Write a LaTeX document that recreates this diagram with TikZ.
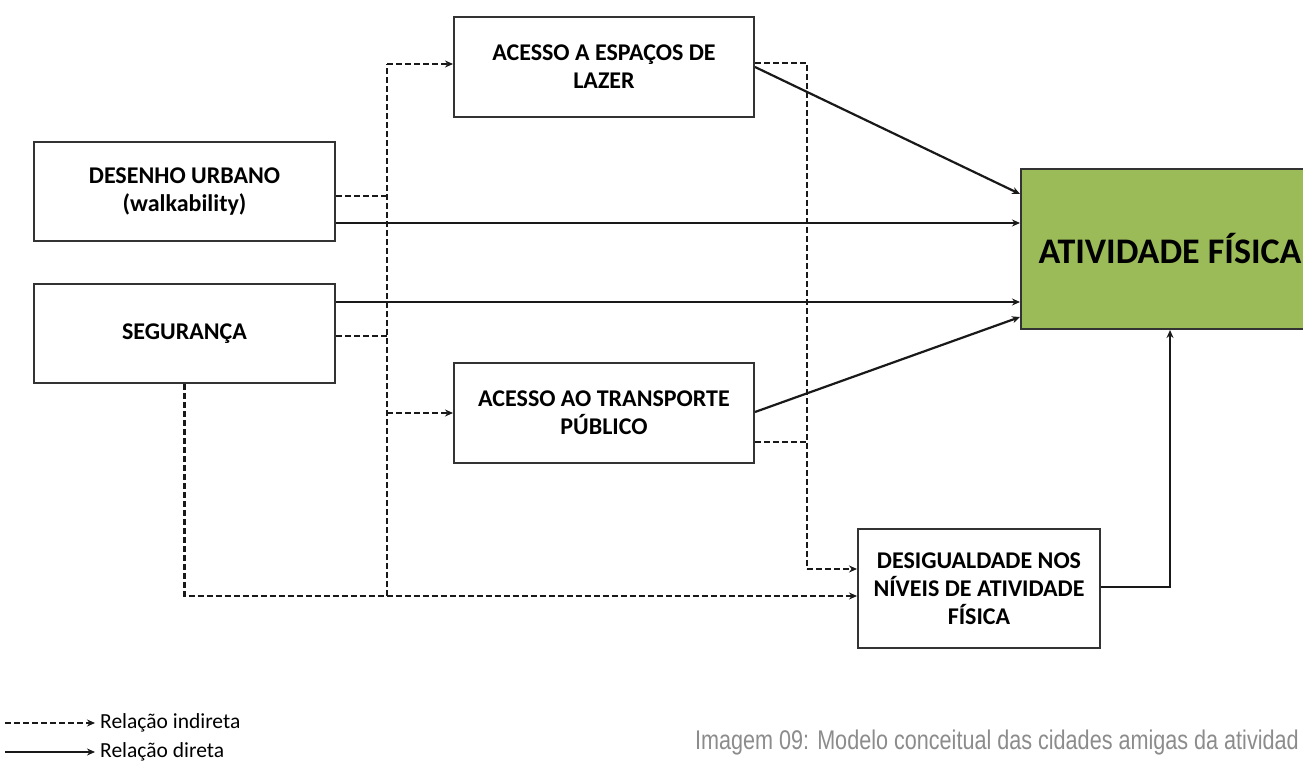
\documentclass[tikz,border=0pt]{standalone}
\usepackage{fontspec}
\setmainfont{Carlito}
\newfontfamily\capfont[FakeStretch=0.80]{Liberation Sans}
\usetikzlibrary{arrows.meta,calc}
\definecolor{boxgreen}{HTML}{9BBB59}
\definecolor{capgray}{HTML}{8C8C8C}
\begin{document}
\begin{tikzpicture}[x=1pt,y=-1pt,
 box/.style={draw=black!80, line width=2pt, fill=white, align=center, font=\bfseries\fontsize{24}{28}\selectfont, inner sep=0pt},
 conn/.style={line width=2.2pt, draw=black!90},
 ind/.style={conn, dash pattern=on 6pt off 3pt},
 tip/.style={-{Stealth[length=8pt,width=7pt]}},
 legtext/.style={anchor=west, inner sep=0pt, font=\fontsize{21.5}{25}\selectfont}
]
\useasboundingbox (0,0) rectangle (1303,762);
\clip (0,0) rectangle (1303,762);
\fill[white] (0,0) rectangle (1303,762);

% boxes
\node[box, minimum width=300pt, minimum height=100pt] (lazer) at (604,67) {ACESSO A ESPAÇOS DE\\LAZER};
\node[box, minimum width=301pt, minimum height=99pt] (desenho) at (184.5,191.5) {DESENHO URBANO\\(walkability)};
\node[box, minimum width=301pt, minimum height=99pt] (seg) at (184.5,333.5) {SEGURANÇA};
\node[box, minimum width=300pt, minimum height=100pt] (transp) at (604,413) {ACESSO AO TRANSPORTE\\PÚBLICO};
\node[box, minimum width=242pt, minimum height=119pt] (desig) at (979,588.5) {DESIGUALDADE NOS\\NÍVEIS DE ATIVIDADE\\FÍSICA};
\node[box, fill=boxgreen, minimum width=298pt, minimum height=160pt, font=\bfseries\fontsize{36}{42}\selectfont] (ativ) at (1170,249) {ATIVIDADE FÍSICA};

% junction points
\coordinate (busTop) at (387,64);
\coordinate (busBot) at (387,596);
\coordinate (busD) at (387,196);
\coordinate (busS) at (387,336);
\coordinate (busT) at (387,413);
\coordinate (rTop) at (807,63);
\coordinate (rMid) at (807,442);
\coordinate (rBot) at (807,569);
\coordinate (segBot) at (184.5,596);
\coordinate (desigCorner) at (1170,587);

% indirect relations
\draw[ind] (busBot) -- (busTop);
\draw[ind,tip] (busTop) -- (lazer.west |- busTop);
\draw[ind,tip] (busT) -- (transp.west |- busT);
\draw[ind] (desenho.east |- busD) -- (busD);
\draw[ind] (seg.east |- busS) -- (busS);
\draw[ind,tip] (seg.south) -- (segBot) -- (desig.west |- segBot);
\draw[ind] (lazer.east |- rTop) -- (rTop) -- (rBot);
\draw[ind,tip] (rBot) -- (desig.west |- rBot);
\draw[ind] (transp.east |- rMid) -- (rMid);

% direct relations
\draw[conn,tip] (desenho.east |- 0,223) -- (ativ.west |- 0,223);
\draw[conn,tip] (seg.east |- 0,302) -- (ativ.west |- 0,302);
\draw[conn,tip] (lazer.east |- 0,67) -- (ativ.west |- 0,194);
\draw[conn,tip] (transp.east |- 0,412) -- (ativ.west |- 0,317);
\draw[conn,tip] (desig.east |- desigCorner) -- (desigCorner) -- (ativ.south -| desigCorner);

% legend
\coordinate (l1s) at (5,723);
\coordinate (l1e) at (95,723);
\coordinate (l2s) at (5,752);
\coordinate (l2e) at (95,752);
\draw[ind,tip,line width=1.8pt] (l1s) -- (l1e);
\draw[conn,tip,line width=1.8pt] (l2s) -- (l2e);
\node[legtext] (lind) at (100,723) {Relação indireta};
\node[legtext] (ldir) at (100,752) {Relação direta};

% caption
\node[anchor=base west, inner sep=0pt, text=capgray, font=\capfont\fontsize{27}{32}\selectfont] (cap) at (695,749) {Imagem 09: Modelo conceitual das cidades amigas da atividad};
\end{tikzpicture}
\end{document}
